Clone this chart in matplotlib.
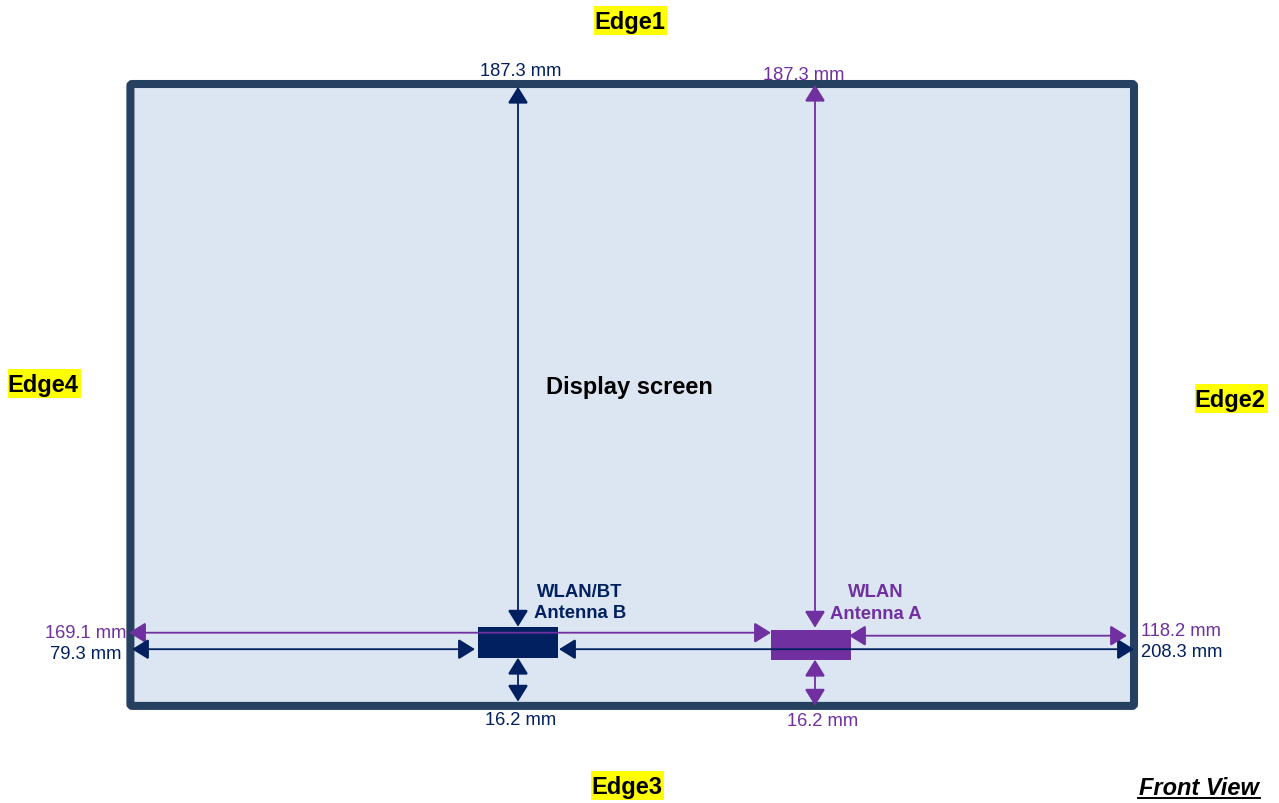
import matplotlib
matplotlib.use("Agg")
import matplotlib.pyplot as plt
from matplotlib.patches import FancyArrowPatch, FancyBboxPatch, Rectangle

plt.rcParams['font.family'] = ['Liberation Sans', 'DejaVu Sans']

NAVY = '#002060'
PURPLE = '#7030A0'
FRAME = '#254061'
FILL = '#DCE6F2'

# (x0, y0, x1, y1, colour)
arrows = [
    (518, 87, 518, 627, NAVY),
    (815, 85, 815, 628, PURPLE),
    (129, 633, 771, 633, PURPLE),
    (132, 649.5, 475, 649.5, NAVY),
    (559, 649.5, 1134, 649.5, NAVY),
    (849, 636, 1127, 636, PURPLE),
    (518, 658, 518, 702, NAVY),
    (815, 660, 815, 706, PURPLE),
]
# antenna blocks (x0, y0, x1, y1, colour)
blocks = [
    (478, 627, 558, 658, NAVY),
    (771, 630, 851, 660, PURPLE),
]
dimensions = [
    (521, 71, '187.3 mm', NAVY),
    (804, 75, '187.3 mm', PURPLE),
    (86, 633, '169.1 mm', PURPLE),
    (86, 654, '79.3 mm', NAVY),
    (1181, 631, '118.2 mm', PURPLE),
    (1182, 652, '208.3 mm', NAVY),
    (521, 720, '16.2 mm', NAVY),
    (823, 721, '16.2 mm', PURPLE),
]
antenna_labels = [
    (580, 592, 'WLAN/BT', NAVY),
    (580, 613, 'Antenna B', NAVY),
    (876, 592, 'WLAN', PURPLE),
    (876, 614, 'Antenna A', PURPLE),
]
edges = [
    (630.5, 20.5, 'Edge1'),
    (1231, 399, 'Edge2'),
    (627.5, 785.5, 'Edge3'),
    (44, 383.5, 'Edge4'),
]
HIGHLIGHT_W, HIGHLIGHT_H = 73, 29

fig = plt.figure(figsize=(12.79, 8.04), dpi=100)
ax = fig.add_axes([0, 0, 1, 1])
ax.set_xlim(0, 1279)
ax.set_ylim(803.3, -0.7)
ax.axis('off')

ax.add_patch(FancyBboxPatch((130.4, 84.3), 1003.6, 621.9,
                            boxstyle='round,pad=0,rounding_size=2',
                            fc=FILL, ec=FRAME, lw=5.8, zorder=1))

for x0, y0, x1, y1, c in blocks:
    ax.add_patch(Rectangle((x0, y0), x1 - x0, y1 - y0, fc=c, ec='none', zorder=2))

for x0, y0, x1, y1, c in arrows:
    ax.add_patch(FancyArrowPatch((x0, y0), (x1, y1),
                                 arrowstyle='<|-|>,head_length=1.0,head_width=0.62',
                                 mutation_scale=10.3, shrinkA=0, shrinkB=0,
                                 color=c, lw=1.3, zorder=3, joinstyle='miter'))

for x, y, s, c in dimensions:
    ax.text(x, y + 0.3, s, color=c, fontsize=13.2, ha='center', va='center', zorder=4)

for x, y, s, c in antenna_labels:
    ax.text(x, y + 0.3, s, color=c, fontsize=13.3, fontweight='bold',
            ha='center', va='center', zorder=4)

for x, y, s in edges:
    ax.add_patch(Rectangle((x - HIGHLIGHT_W / 2, y - HIGHLIGHT_H / 2),
                           HIGHLIGHT_W, HIGHLIGHT_H, fc='#FFFF00', ec='none', zorder=3))
    ax.text(x - 1, y + 1, s, color='black', fontsize=17, fontweight='bold',
            ha='center', va='center', zorder=4)

ax.text(629, 387, 'Display screen', color='black', fontsize=17,
        fontweight='bold', ha='center', va='center', zorder=4)

ax.text(1199, 788, 'Front View', color='black', fontsize=17, fontweight='bold',
        fontstyle='italic', ha='center', va='center', zorder=4)
ax.plot([1138, 1260], [798, 798], color='black', lw=1.4, zorder=4)

fig.savefig('out.png', dpi=100)
